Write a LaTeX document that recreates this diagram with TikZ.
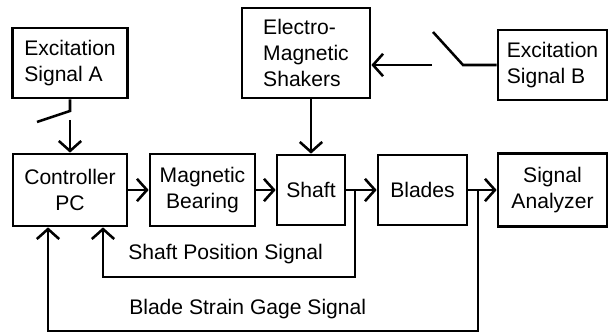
\documentclass[tikz,border=0pt]{standalone}
\usepackage{fontspec}
\setmainfont{Liberation Sans}
\usetikzlibrary{arrows.meta}
\begin{document}
\begin{tikzpicture}[x=0.025cm, y=-0.025cm, line width=1.8pt,
  >={Straight Barb[length=2.5mm,width=5.6mm]},
  blockbox/.style={draw, line width=1.9pt, inner sep=0pt, font=\fontsize{15}{18.5}\selectfont},
  siglabel/.style={anchor=base west, inner sep=0pt, font=\fontsize{15}{18.5}\selectfont}]
\useasboundingbox (0,0) rectangle (611,333);
% Top row: excitation sources and shakers
\node[blockbox, align=left, minimum width=2.875cm, minimum height=1.75cm] (excA) at (70,63) {Excitation\\Signal A};
\node[blockbox, align=left, minimum width=3.2cm, minimum height=2.25cm] (shakers) at (306,53) {Electro-\\Magnetic\\Shakers};
\node[blockbox, align=left, minimum width=2.725cm, minimum height=1.75cm] (excB) at (552.5,65) {Excitation\\Signal B};
% Main row
\node[blockbox, align=center, minimum width=2.85cm, minimum height=1.8cm] (ctrl) at (70,190) {Controller\\PC};
\node[blockbox, align=center, minimum width=2.625cm, minimum height=1.8cm] (bearing) at (202.5,190) {Magnetic\\Bearing};
\node[blockbox, align=center, minimum width=1.7cm, minimum height=1.75cm] (shaft) at (311,190) {Shaft};
\node[blockbox, align=center, minimum width=2.225cm, minimum height=1.75cm] (blades) at (422.5,190) {Blades};
\node[blockbox, align=center, minimum width=2.725cm, minimum height=1.825cm] (analyzer) at (552.5,190) {Signal\\Analyzer};
% Forward path
\draw[->] (ctrl.east) -- (bearing.west);
\draw[->] (bearing.east) -- (shaft.west);
\draw[->] (shaft.east) -- (blades.west);
\draw[->] (blades.east) -- (analyzer.west);
\draw[->] (shakers.south -| shaft.north) -- (shaft.north);
% Switch A
\coordinate (swApivot) at (70,111);
\coordinate (swAblade) at (37,122);
\coordinate (swAout) at (70,120);
\draw (excA.south) -- (swApivot) -- (swAblade);
\draw[->] (swAout) -- (ctrl.north);
% Switch B
\coordinate (swBpivot) at (463,65);
\coordinate (swBblade) at (433,32);
\coordinate (swBout) at (432,65);
\draw (excB.west) -- (swBpivot) -- (swBblade);
\draw[->] (swBout) -- (swBout -| shakers.east);
% Feedback signals
\coordinate (posJ) at (355,190);
\coordinate (posRet) at (103,277);
\draw[->] (posJ) |- (posRet) -- (posRet |- ctrl.south);
\node[siglabel] (posLabel) at (127,260) {Shaft Position Signal};
\coordinate (strJ) at (478,190);
\coordinate (strRet) at (48,331);
\draw[->] (strJ) |- (strRet) -- (strRet |- ctrl.south);
\node[siglabel] (strLabel) at (128,315) {Blade Strain Gage Signal};
\end{tikzpicture}
\end{document}
